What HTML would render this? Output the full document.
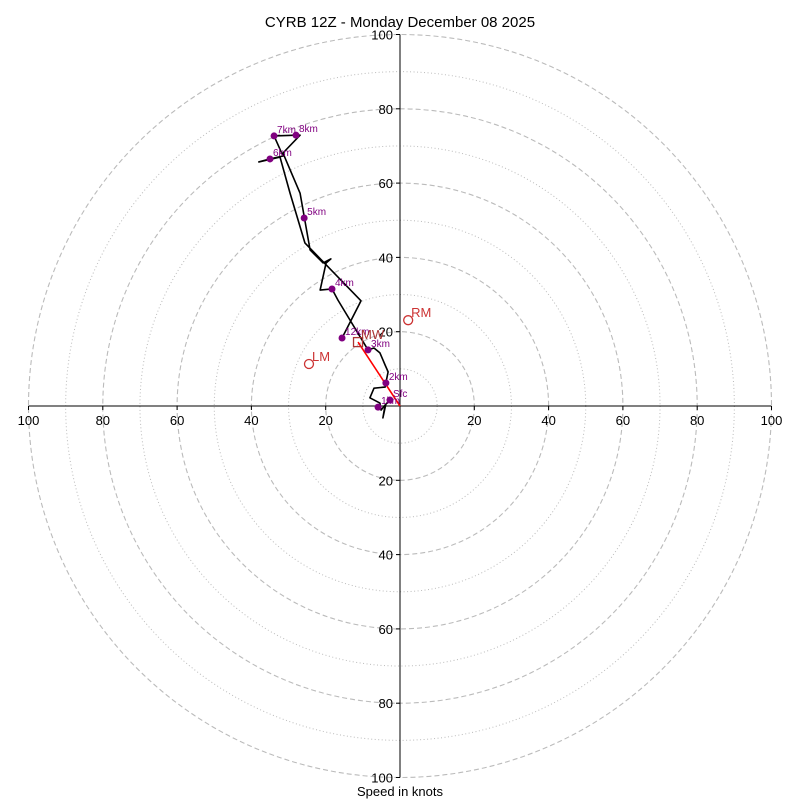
<!DOCTYPE html>
<html><head><meta charset="utf-8"><style>
body{margin:0;background:#fff}
svg{display:block;font-family:"Liberation Sans","DejaVu Sans",sans-serif}
</style></head><body>
<svg id="chart" width="800" height="800" viewBox="0 0 800 800">
<text x="400" y="27" text-anchor="middle" font-size="15">CYRB 12Z - Monday December 08 2025</text>
<text x="400" y="796" text-anchor="middle" font-size="13">Speed in knots</text>
<g id="g"></g>
</svg>
<script>
const ringSpeeds=[10,20,30,40,50,60,70,80,90,100];
const tickLabels=[20,40,60,80,100];
const pathU=[-2.7,-3.8,-4.6,-4.0,-5.1,-5.4,-8.1,-7.0,-4.0,-3.8,-3.2,-4.0,-5.4,-7.0,-8.6,-16.7,-18.3,-21.5,-19.9,-18.6,-20.7,-24.2,-26.9,-31.5,-26.9,-28.0,-33.9,-31.5,-35.0,-38.0,-32.3,-29.6,-25.6,-10.5,-15.6];
const pathV=[1.6,0.5,-3.2,0.3,-1.1,0.8,2.2,4.8,5.1,6.2,9.2,11.0,14.3,15.6,15.1,28.5,31.5,31.2,38.5,39.6,38.5,42.0,57.3,68.1,72.9,72.9,72.7,67.3,66.5,65.7,67.0,57.3,43.9,28.3,18.3];
const dotLabels=["Sfc","1km","2km","3km","4km","5km","6km","7km","8km","12km"];
const dotU=[-2.7,-5.9,-3.8,-8.6,-18.3,-25.8,-35.0,-33.9,-28.0,-15.6];
const dotV=[1.6,-0.3,6.2,15.1,31.5,50.6,66.5,72.7,72.9,18.3];
const rmU=2.2, rmV=23.1, lmU=-24.5, lmV=11.3, mwU=-11.3, mwV=17.2;
const cx=400, cy=406, k=3.715;
const X=u=>cx+u*k, Y=v=>cy-v*k;
const g=document.getElementById('g'), NS='http://www.w3.org/2000/svg';
function mk(t,a){const e=document.createElementNS(NS,t);for(const n in a)e.setAttribute(n,a[n]);g.appendChild(e);return e;}
ringSpeeds.forEach(s=>{
 const e=mk('circle',{cx:cx,cy:cy,r:s*k,fill:'none',stroke:'#bbb','stroke-width':s%20==0?1.1:1,'stroke-dasharray':s%20==0?'5,3':'1,2.5'});
 
 
});
let ax=mk('line',{x1:X(-100),y1:cy,x2:X(100),y2:cy,stroke:'#000','stroke-width':1});


ax=mk('line',{x1:cx,y1:Y(100),x2:cx,y2:Y(-100),stroke:'#000','stroke-width':1});


tickLabels.forEach(t=>{
 [-1,1].forEach(sg=>{
  mk('line',{x1:X(sg*t),y1:cy,x2:X(sg*t),y2:cy+4,stroke:'#000'});
  let e=mk('text',{x:X(sg*t),y:cy+19,'text-anchor':'middle','font-size':13});e.textContent=t;
  
  
  mk('line',{x1:cx-4,y1:Y(sg*t),x2:cx,y2:Y(sg*t),stroke:'#000'});
  e=mk('text',{x:cx-7,y:Y(sg*t)+5,'text-anchor':'end','font-size':13});e.textContent=t;
  
  
 });
});
const pl=mk('polyline',{points:pathU.map((u,i)=>X(u)+','+Y(pathV[i])).join(' '),fill:'none',stroke:'#000','stroke-width':1.6,'stroke-linejoin':'round'});


const sh=mk('line',{x1:X(0),y1:Y(0),x2:X(mwU),y2:Y(mwV),stroke:'red','stroke-width':1.6});


dotU.forEach((u,i)=>{
 const c=mk('circle',{cx:X(u),cy:Y(dotV[i]),r:3.5,fill:'purple'});
 
 
 const t=mk('text',{x:X(u)+3,y:Y(dotV[i])-3,'font-size':10,fill:'purple'});t.textContent=dotLabels[i];
 
 
});
let e=mk('circle',{cx:X(rmU),cy:Y(rmV),r:4.5,fill:'none',stroke:'#c33','stroke-width':1.3});


e=mk('text',{x:X(rmU)+3,y:Y(rmV)-3,'font-size':13,fill:'#c33'});e.textContent='RM';


e=mk('circle',{cx:X(lmU),cy:Y(lmV),r:4.5,fill:'none',stroke:'#c33','stroke-width':1.3});


e=mk('text',{x:X(lmU)+3,y:Y(lmV)-3,'font-size':13,fill:'#c33'});e.textContent='LM';


e=mk('rect',{x:X(mwU)-4.5,y:Y(mwV)-4.5,width:9,height:9,fill:'none',stroke:'#a33','stroke-width':1.3});


e=mk('text',{x:X(mwU)+3,y:Y(mwV)-3,'font-size':13,fill:'#a33'});e.textContent='MW';


</script>
</body></html>
